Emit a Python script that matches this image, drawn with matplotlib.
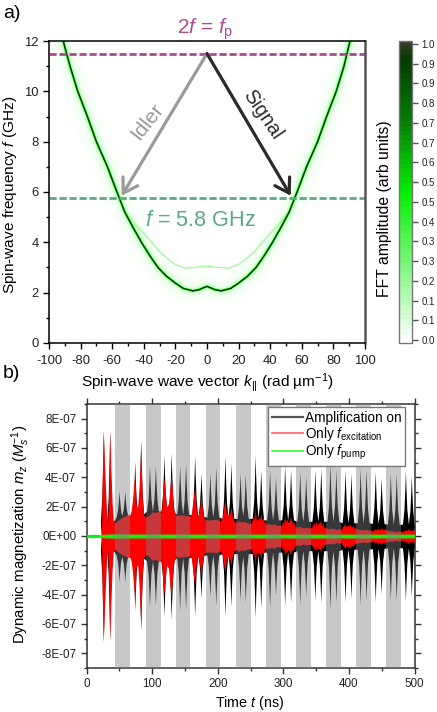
import numpy as np
import matplotlib
matplotlib.use("Agg")
import matplotlib.pyplot as plt
from matplotlib.colors import LinearSegmentedColormap, Normalize
from matplotlib.cm import ScalarMappable
from matplotlib.lines import Line2D
from matplotlib.ticker import MultipleLocator

plt.rcParams['font.family'] = ['Liberation Sans', 'DejaVu Sans']
plt.rcParams['mathtext.fontset'] = 'custom'
plt.rcParams['mathtext.rm'] = 'Liberation Sans'
plt.rcParams['mathtext.it'] = 'Liberation Sans:italic'
plt.rcParams['mathtext.bf'] = 'Liberation Sans:bold'
plt.rcParams['axes.unicode_minus'] = False

W, H = 437, 712

# panel a: dispersion
main_k = [-91, -86.7, -81.8, -75.7, -70, -63, -57, -52, -46, -41, -36, -31, -25.6, -20, -15, -9, -5, -2, 0,
          2, 5, 9, 15, 20, 25.6, 31, 36, 41, 46, 52, 57, 63, 70, 75.7, 81.8, 86.7, 90.5]
main_f = [12, 11, 10, 9.0, 8, 7, 6.0, 5.2, 4.5, 3.95, 3.45, 3.0, 2.65, 2.38, 2.17, 2.07, 2.12, 2.2, 2.25,
          2.2, 2.12, 2.07, 2.17, 2.38, 2.65, 3.0, 3.45, 3.95, 4.5, 5.2, 6.0, 7, 8, 9.0, 10, 11, 12]
second_k = [-52, -46, -40, -35, -30, -25, -20, -14, -8, 0, 8, 14, 20, 25, 30, 35, 40, 46, 52]
second_f = [5.2, 4.75, 4.35, 4.0, 3.63, 3.35, 3.12, 2.97, 3.0, 3.05, 3.0, 2.97, 3.12, 3.35, 3.63, 4.0, 4.35, 4.75, 5.2]
pump_f = 11.5
signal_f = 5.75
idler_k = -54
signal_k = 53
arrow_tip_f = 5.85

cbar_ticks = [0, 1/15, 2/15, 3/15, 4/15, 5/15, 6/15, 7/15, 8/15, 9/15, 10/15, 11/15, 12/15, 13/15, 14/15, 1]

# panel b: burst peaks, in units of 1E-7
peak_t = [25.7, 35.3, 49.6, 58.3, 73.5, 82.6, 96, 105, 118, 129, 142, 151, 164.8, 174.4, 188, 197, 211, 220,
          234, 242, 257, 265.5, 279, 288, 302, 311, 325, 334, 348, 357, 371, 380, 394, 403, 417, 426, 440, 449,
          463, 472, 486, 495]
black_up = [7.2, 7.2, 3.1, 3.1, 5.1, 6.6, 4.8, 4.8, 5.5, 5.7, 4.8, 5.0, 5.5, 4.3, 4.3, 4.7, 5.5, 5.0,
            4.3, 4.2, 5.5, 4.5, 4.5, 4.0, 4.8, 4.55, 4.4, 4.1, 4.5, 4.6, 4.9, 4.5, 4.5, 4.25, 4.6, 4.5, 4.4, 4.0,
            4.3, 4.25, 4.5, 4.1]
black_low = [7.2, 7.1, 3.1, 3.1, 5.07, 6.5, 4.84, 4.7, 5.5, 5.7, 5.05, 5.05, 5.5, 4.25, 4.15, 4.7, 5.5, 4.8,
             4.4, 4.5, 5.55, 4.9, 4.9, 4.05, 4.75, 4.55, 4.7, 4.1, 4.4, 4.55, 5.0, 4.5, 4.5, 4.25, 4.7, 4.4, 4.5, 3.95,
             4.4, 4.4, 4.45, 4.15]
black_base = [1.0, 0.9, 1.3, 1.4, 1.4, 1.5, 1.7, 1.7, 1.7, 1.6, 1.5, 1.5, 1.4, 1.3, 1.3, 1.3, 1.2, 1.2,
              1.2, 1.2, 1.2, 1.1, 1.1, 1.1, 1.1, 1.1, 1.0, 1.0, 1.0, 1.0, 1.0, 1.0, 0.9, 0.9, 0.9, 0.9, 0.85, 0.85,
              0.8, 0.8, 0.8, 0.8]
red_t = [22.5, 23, 23.5, 25.6, 27, 29, 31, 32.5, 34, 35.5, 37, 39, 41, 44,
         50, 56, 62, 66, 68, 70, 73.5, 76, 78, 80, 82.6, 85, 87,
         90, 95, 100, 105, 110, 113, 115, 116, 118, 120, 122, 125, 127, 129, 131, 133,
         136, 142, 150, 158, 160, 162, 164.8, 167, 169, 172, 174.4, 176.5, 179,
         182, 190, 198, 204, 207, 209, 211, 213, 215, 218, 220, 222, 225,
         228, 232, 236, 240, 244, 248, 251, 253, 255, 256, 257, 258.5, 260, 262, 264, 265.5, 267, 269, 271,
         274, 278, 282, 286, 290, 294, 297, 299, 300.5, 302, 303.5, 305, 307, 309, 311, 313, 315, 317,
         320, 325, 330, 335, 340, 343, 345, 347, 348.5, 350, 352, 354, 356, 358, 360, 362,
         365, 370, 375, 380, 385, 388, 390, 392, 394, 396, 398, 400, 402, 404, 406, 408,
         411, 416, 421, 426, 431, 434, 436, 438, 440, 442, 444, 446, 448, 450, 452, 454,
         457, 462, 467, 472, 477, 480, 482, 484, 486, 488, 490, 492, 494, 496, 498, 500]
red_a = [0, 0.5, 3.0, 7.2, 5.5, 3.2, 1.3, 1.0, 3.0, 7.2, 4.7, 2.3, 1.0, 0.9,
         1.15, 1.3, 1.45, 1.45, 1.7, 2.4, 4.2, 2.0, 2.0, 3.2, 6.0, 2.6, 1.5,
         1.25, 1.4, 1.65, 1.6, 1.7, 1.6, 2.0, 3.0, 4.0, 3.0, 2.0, 2.2, 3.2, 4.2, 3.0, 1.8,
         1.4, 1.45, 1.4, 1.35, 1.6, 2.4, 3.3, 2.0, 1.3, 1.7, 2.7, 1.9, 1.2,
         1.1, 1.1, 1.15, 1.0, 1.3, 1.9, 2.5, 1.6, 1.4, 1.5, 2.0, 1.4, 1.0,
         0.9, 1.05, 0.95, 1.0, 0.9, 0.85, 0.9, 1.15, 1.4, 1.05, 2.0, 1.2, 1.0, 1.25, 1.15, 1.6, 1.1, 1.25, 0.95,
         0.8, 0.85, 0.75, 0.85, 0.7, 0.75, 0.7, 1.0, 0.8, 1.35, 0.95, 1.2, 0.9, 1.0, 1.3, 0.9, 1.0, 0.7,
         0.6, 0.65, 0.55, 0.6, 0.55, 0.6, 0.75, 0.9, 0.7, 1.0, 0.75, 0.9, 1.0, 0.7, 0.85, 0.6,
         0.55, 0.5, 0.55, 0.45, 0.5, 0.45, 0.6, 0.7, 0.85, 0.6, 0.8, 0.65, 0.8, 0.6, 0.7, 0.55,
         0.5, 0.45, 0.4, 0.45, 0.4, 0.4, 0.35, 0.4, 0.5, 0.4, 0.55, 0.4, 0.5, 0.55, 0.4, 0.5,
         0.4, 0.35, 0.35, 0.3, 0.35, 0.3, 0.3, 0.35, 0.45, 0.35, 0.5, 0.35, 0.45, 0.35, 0.5, 0.35]
green_t = [0, 10, 20, 25, 40, 100, 200, 300, 400, 500]
green_amp = [0.10, 0.12, 0.09, 0.12, 0.14, 0.13, 0.13, 0.13, 0.13, 0.13]
band_start = [44, 90, 136, 182, 228, 274, 320, 365, 411, 457]
band_end = [66, 113, 158, 204, 250, 296, 342, 388, 434, 480]

PURPLE = '#aa4a90'
SEA = '#5aaa85'
GREY_SPINE = '#555555'


def px_axes(x0, y0, x1, y1):
    return fig.add_axes([x0 / W, 1 - y1 / H, (x1 - x0) / W, (y1 - y0) / H])


def px_text(x, y, s, **kw):
    kw.setdefault('ha', 'center')
    kw.setdefault('va', 'center')
    fig.text(x / W, 1 - y / H, s, **kw)


def envelope(values, base):
    # each burst rises from its base to its peak and back, narrow at the tip
    t, a = [22.5], [0.0]
    for p, v, b in zip(peak_t, values, base):
        for dt, frac in [(-4.5, 0), (-2.2, 0.28), (-0.8, 0.68), (0, 1), (0.8, 0.68), (2.2, 0.28), (4.5, 0)]:
            t.append(p + dt)
            a.append(b + (v - b) * frac)
    t.append(500)
    a.append(base[-1])
    return np.array(t), np.array(a)


fig = plt.figure(figsize=(W / 100, H / 100), dpi=100)

# a) dispersion
ax = px_axes(49, 41, 365, 343)
for lw, al in [(20, 0.018), (12, 0.03), (6, 0.07), (3, 0.22)]:
    ax.plot(main_k, main_f, color='#00ff00', lw=lw, alpha=al, solid_capstyle='butt', solid_joinstyle='round')
ax.plot(second_k, second_f, color='#00ff00', lw=2.5, alpha=0.05, solid_capstyle='butt')
ax.plot(second_k, second_f, color='#88ee88', lw=0.8, alpha=0.7)
ax.plot(main_k, main_f, color='#00c000', lw=1.4)
ax.plot(main_k, main_f, color='#052a05', lw=0.8)
ax.axhline(pump_f, color=PURPLE, lw=2, dashes=(2.6, 1.0))
ax.axhline(signal_f, color=SEA, lw=2, dashes=(2.6, 1.0))
head = '->,head_length=0.45,head_width=0.28'
ax.annotate('', xy=(idler_k, arrow_tip_f), xytext=(0, pump_f),
            arrowprops=dict(arrowstyle=head, color='#9a9a9a', lw=2.3, mutation_scale=22, shrinkA=0, shrinkB=0))
ax.annotate('', xy=(signal_k, arrow_tip_f), xytext=(0, pump_f),
            arrowprops=dict(arrowstyle=head, color='#2a2a2a', lw=2.3, mutation_scale=22, shrinkA=0, shrinkB=0))
ax.set_xlim(-100, 100)
ax.set_ylim(0, 12)
ax.xaxis.set_major_locator(MultipleLocator(20))
ax.xaxis.set_minor_locator(MultipleLocator(10))
ax.yaxis.set_major_locator(MultipleLocator(2))
ax.yaxis.set_minor_locator(MultipleLocator(1))
ax.tick_params(which='major', length=4.3, width=1, labelsize=9.4, pad=3, labelcolor='#222222')
ax.tick_params(axis='x', which='major', pad=4)
ax.tick_params(which='minor', length=2.5, width=1)
ax.spines['right'].set_color(GREY_SPINE)
ax.spines['right'].set_linewidth(1.8)
for s in ['left', 'bottom', 'top']:
    ax.spines[s].set_linewidth(1.1)

# colour bar
cmap = LinearSegmentedColormap.from_list('fft', [(0, '#ffffff'), (0.5, '#00f000'), (0.75, '#067806'),
                                                 (0.95, '#043a04'), (1, '#3a3a28')], N=64)
cax = px_axes(399, 41, 412, 343)
norm = Normalize(-0.01, 1.01)
cb = fig.colorbar(ScalarMappable(norm=norm, cmap=cmap), cax=cax)
cb.set_ticks(cbar_ticks)
cb.set_ticklabels(['%.1f' % v for v in cbar_ticks])
cb.ax.tick_params(length=4.3, width=1, labelsize=7, pad=2.5, color='#555555', labelcolor='#222222')
cb.outline.set_edgecolor('#777777')
cb.outline.set_linewidth(1)

# b) time trace
bx = px_axes(86.5, 404, 414.6, 668)
t_b, up_b = envelope(black_up, black_base)
_, low_b = envelope(black_low, black_base)
r_t = np.array(red_t)
r_a = np.array(red_a)
bx.fill_between(t_b, up_b * 1e-7, -low_b * 1e-7, color='black', lw=0, zorder=2)
bx.fill_between(r_t, r_a * 1e-7, -r_a * 1e-7, color='#ff0000', lw=0, zorder=3)
g_a = np.array(green_amp)
bx.fill_between(green_t, g_a * 1e-7, -g_a * 1e-7, color='#10f010', lw=0, zorder=4)
for a, b in zip(band_start, band_end):
    bx.axvspan(a, b, color='#808088', alpha=0.43, lw=0, zorder=5)
bx.set_xlim(0, 500)
bx.set_ylim(-9e-7, 9e-7)
bx.xaxis.set_major_locator(MultipleLocator(100))
bx.xaxis.set_minor_locator(MultipleLocator(50))
bx.yaxis.set_minor_locator(MultipleLocator(1e-7))
bx.set_yticks(np.arange(-8, 9, 2) * 1e-7)
bx.set_yticklabels(['-8E-07', '-6E-07', '-4E-07', '-2E-07', '0E+00', '2E-07', '4E-07', '6E-07', '8E-07'])
bx.tick_params(which='major', length=4.3, width=1, labelsize=8.4, pad=3, top=True, right=True, color='#333333',
               labelcolor='#222222')
bx.tick_params(which='minor', length=2.5, width=1, top=True, right=True, color='#333333')
for s in bx.spines.values():
    s.set_linewidth(1.1)
    s.set_color('#333333')

handles = [Line2D([], [], color='#555555', lw=1.6),
           Line2D([], [], color='#ff6060', lw=1.2),
           Line2D([], [], color='#30ff30', lw=1.2)]
labels = ['Amplification on', r'Only $\mathit{f}_{\mathrm{excitation}}$', r'Only $\mathit{f}_{\mathrm{pump}}$']
leg = bx.legend(handles, labels, loc='upper left', bbox_to_anchor=((268 - 86.5) / 328.1, 1 - 3 / 264),
                fontsize=9.8, frameon=True, fancybox=False, framealpha=1, edgecolor='#777777',
                borderaxespad=0, handlelength=2.3, handletextpad=0.1, labelspacing=0.0, borderpad=0.3)
leg.set_zorder(10)
leg.get_frame().set_linewidth(1)

# labels
px_text(3, 14, 'a)', fontsize=14, ha='left')
px_text(3, 373, 'b)', fontsize=14, ha='left')
px_text(205, 29, r'2$\mathit{f}$ = $\mathit{f}_{\mathrm{p}}$', fontsize=15, color=PURPLE)
px_text(200, 221, r'$\mathit{f}$ = 5.8 GHz', fontsize=15.6, color=SEA)
px_text(147, 122, 'Idler', fontsize=15, color='#9a9a9a', rotation=52)
px_text(263, 115, 'Signal', fontsize=14.3, color='#2a2a2a', rotation=-56)
px_text(10, 194.5, r'Spin-wave frequency $\mathit{f}$ (GHz)', fontsize=11.1, rotation=90)
px_text(207, 383, r'Spin-wave wave vector $\mathit{k}_{||}$ (rad µm$^{-1}$)', fontsize=11.1)
px_text(385, 209, 'FFT amplitude (arb units)', fontsize=11.3, rotation=90)
px_text(21, 534, r'Dynamic magnetization $\mathit{m}_{z}$ ($\mathit{M}_{s}^{-1}$)', fontsize=10.8, rotation=90)
px_text(250, 703, r'Time $\mathit{t}$ (ns)', fontsize=10.3)

fig.savefig('out.png', dpi=100)
